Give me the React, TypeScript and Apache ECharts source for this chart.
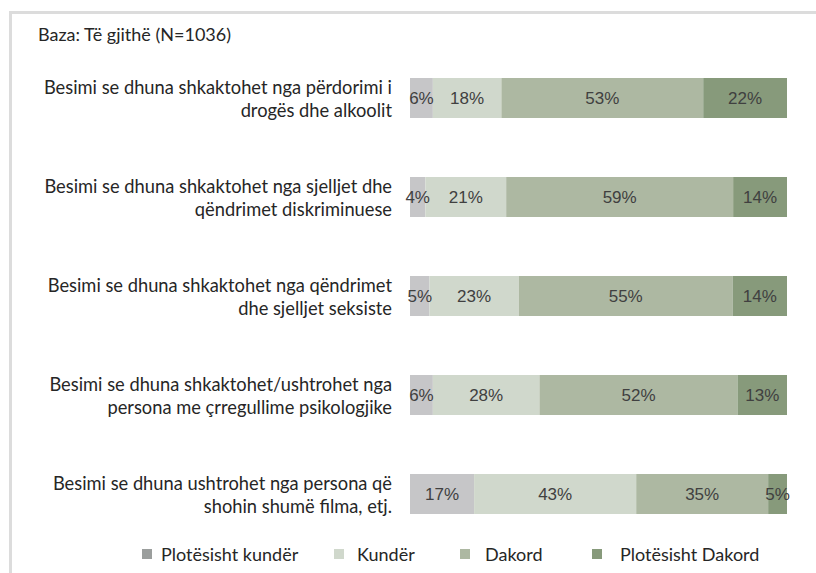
import React, { useEffect, useRef } from "react";
import * as echarts from "echarts";

const categories = [
  "Besimi se dhuna shkaktohet nga përdorimi i\ndrogës dhe alkoolit",
  "Besimi se dhuna shkaktohet nga sjelljet dhe\nqëndrimet diskriminuese",
  "Besimi se dhuna shkaktohet nga qëndrimet\ndhe sjelljet seksiste",
  "Besimi se dhuna shkaktohet/ushtrohet nga\npersona me çrregullime psikologjike",
  "Besimi se dhuna ushtrohet nga persona që\nshohin shumë filma, etj.",
];
const seriesNames = ["Plotësisht kundër", "Kundër", "Dakord", "Plotësisht Dakord"];
const plotKunder = [6, 4, 5, 6, 17];
const kunder = [18, 21, 23, 28, 43];
const dakord = [53, 59, 55, 52, 35];
const plotDakord = [22, 14, 14, 13, 5];

const barColors = ["#c6c6c8", "#d0d8cc", "#adb8a2", "#879a7b"];
const legendColors = ["#9b9e9d", "#d0d8cc", "#adb8a2", "#879a7b"];
const legendLeft = [142, 334, 460, 592];
const legendTextGap = [9, 13, 15, 18];

export default function App() {
  const ref = useRef<HTMLDivElement>(null);
  useEffect(() => {
    if (!ref.current) return;
    const chart = echarts.init(ref.current, null, { renderer: "svg" });
    const all = [plotKunder, kunder, dakord, plotDakord];
    const totals = categories.map((_, i) => all.reduce((s, arr) => s + arr[i], 0));
    const series = all.map((arr, k) => ({
      name: seriesNames[k],
      type: "bar",
      stack: "total",
      barWidth: 40,
      itemStyle: { color: barColors[k] },
      label: {
        show: true,
        position: "inside",
        color: "#404040",
        fontFamily: "Liberation Sans",
        fontSize: 17,
        formatter: (p: any) => p.data.raw + "%",
      },
      data: arr.map((v, i) => ({ value: (v * 100) / totals[i], raw: v })),
    }));
    chart.setOption({
      animation: false,
      backgroundColor: "#ffffff",
      graphic: [
        {
          type: "polyline",
          shape: { points: [[10.5, 700], [10.5, 12.5], [900, 12.5]] },
          style: { fill: "none", stroke: "#dcdcdc", lineWidth: 3 },
          silent: true,
        },
        {
          type: "text",
          left: 38,
          top: 25,
          style: {
            text: "Baza: Të gjithë (N=1036)",
            fontFamily: "Lato",
            fontSize: 18,
            fill: "#262626",
          },
        },
      ],
      legend: seriesNames.map((n, k) => ({
        data: [{ name: n, itemStyle: { color: legendColors[k] } }],
        left: legendLeft[k],
        top: 545,
        padding: 0,
        itemWidth: 10,
        itemHeight: 10,
        itemGap: 0,
        icon: "rect",
        selectedMode: false,
        textStyle: {
          fontFamily: "Lato",
          fontSize: 18,
          color: "#262626",
          padding: [0, 0, 0, legendTextGap[k] - 5],
        },
      })),
      grid: { left: 410, width: 377, top: 48.5, height: 495 },
      xAxis: { type: "value", min: 0, max: 100, show: false },
      yAxis: {
        type: "category",
        inverse: true,
        data: categories,
        axisLine: { show: false },
        axisTick: { show: false },
        axisLabel: {
          margin: 18,
          align: "right",
          fontFamily: "Lato",
          fontSize: 18.3,
          lineHeight: 23,
          color: "#262626",
        },
      },
      series,
    });
    return () => chart.dispose();
  }, []);
  return (
    <div
      ref={ref}
      style={{ position: "fixed", left: 0, top: 0, width: 816, height: 573 }}
    />
  );
}
